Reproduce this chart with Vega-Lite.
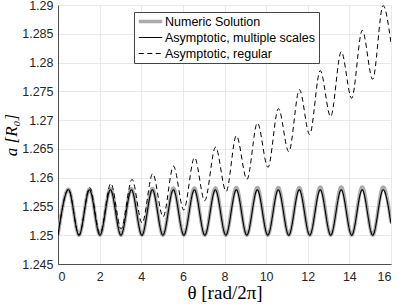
{
  "$schema": "https://vega.github.io/schema/vega-lite/v6.json",
  "width": 333,
  "height": 259,
  "autosize": {"type": "none"},
  "padding": {"left": 58, "top": 5, "right": 8, "bottom": 41},
  "background": "white",
  "config": {
    "view": {"stroke": null},
    "axis": {
      "labelFont": "Liberation Sans",
      "labelFontSize": 12.5,
      "labelColor": "#262626",
      "titleColor": "#000000",
      "gridColor": "#e3e3e3",
      "gridWidth": 0.8,
      "domainColor": "#262626",
      "domainWidth": 0.8,
      "tickSize": 0
    },
    "legend": {
      "labelFont": "Liberation Sans",
      "labelFontSize": 12.5,
      "labelColor": "#000000"
    }
  },
  "data": {
    "values": [
      {"series": "Numeric Solution", "theta": 0, "a": 1.25},
      {"series": "Numeric Solution", "theta": 0.504, "a": 1.258},
      {"series": "Numeric Solution", "theta": 1.008, "a": 1.25},
      {"series": "Numeric Solution", "theta": 1.512, "a": 1.258},
      {"series": "Numeric Solution", "theta": 2.016, "a": 1.25},
      {"series": "Numeric Solution", "theta": 2.52, "a": 1.2581},
      {"series": "Numeric Solution", "theta": 3.024, "a": 1.25},
      {"series": "Numeric Solution", "theta": 3.528, "a": 1.2581},
      {"series": "Numeric Solution", "theta": 4.032, "a": 1.25},
      {"series": "Numeric Solution", "theta": 4.536, "a": 1.2581},
      {"series": "Numeric Solution", "theta": 5.04, "a": 1.25},
      {"series": "Numeric Solution", "theta": 5.544, "a": 1.2582},
      {"series": "Numeric Solution", "theta": 6.048, "a": 1.25},
      {"series": "Numeric Solution", "theta": 6.552, "a": 1.2582},
      {"series": "Numeric Solution", "theta": 7.056, "a": 1.25},
      {"series": "Numeric Solution", "theta": 7.56, "a": 1.2582},
      {"series": "Numeric Solution", "theta": 8.064, "a": 1.25},
      {"series": "Numeric Solution", "theta": 8.568, "a": 1.2583},
      {"series": "Numeric Solution", "theta": 9.072, "a": 1.25},
      {"series": "Numeric Solution", "theta": 9.576, "a": 1.2583},
      {"series": "Numeric Solution", "theta": 10.08, "a": 1.25},
      {"series": "Numeric Solution", "theta": 10.584, "a": 1.2583},
      {"series": "Numeric Solution", "theta": 11.088, "a": 1.25},
      {"series": "Numeric Solution", "theta": 11.592, "a": 1.2583},
      {"series": "Numeric Solution", "theta": 12.096, "a": 1.25},
      {"series": "Numeric Solution", "theta": 12.6, "a": 1.2584},
      {"series": "Numeric Solution", "theta": 13.104, "a": 1.25},
      {"series": "Numeric Solution", "theta": 13.608, "a": 1.2584},
      {"series": "Numeric Solution", "theta": 14.112, "a": 1.25},
      {"series": "Numeric Solution", "theta": 14.616, "a": 1.2584},
      {"series": "Numeric Solution", "theta": 15.12, "a": 1.25},
      {"series": "Numeric Solution", "theta": 15.624, "a": 1.2584},
      {"series": "Numeric Solution", "theta": 16, "a": 1.2522},

      {"series": "Asymptotic, multiple scales", "theta": 0, "a": 1.25},
      {"series": "Asymptotic, multiple scales", "theta": 0.504, "a": 1.2579},
      {"series": "Asymptotic, multiple scales", "theta": 1.008, "a": 1.25},
      {"series": "Asymptotic, multiple scales", "theta": 1.512, "a": 1.2579},
      {"series": "Asymptotic, multiple scales", "theta": 2.016, "a": 1.25},
      {"series": "Asymptotic, multiple scales", "theta": 2.52, "a": 1.2579},
      {"series": "Asymptotic, multiple scales", "theta": 3.024, "a": 1.25},
      {"series": "Asymptotic, multiple scales", "theta": 3.528, "a": 1.2579},
      {"series": "Asymptotic, multiple scales", "theta": 4.032, "a": 1.25},
      {"series": "Asymptotic, multiple scales", "theta": 4.536, "a": 1.2579},
      {"series": "Asymptotic, multiple scales", "theta": 5.04, "a": 1.25},
      {"series": "Asymptotic, multiple scales", "theta": 5.544, "a": 1.2579},
      {"series": "Asymptotic, multiple scales", "theta": 6.048, "a": 1.25},
      {"series": "Asymptotic, multiple scales", "theta": 6.552, "a": 1.2579},
      {"series": "Asymptotic, multiple scales", "theta": 7.056, "a": 1.25},
      {"series": "Asymptotic, multiple scales", "theta": 7.56, "a": 1.2579},
      {"series": "Asymptotic, multiple scales", "theta": 8.064, "a": 1.25},
      {"series": "Asymptotic, multiple scales", "theta": 8.568, "a": 1.2579},
      {"series": "Asymptotic, multiple scales", "theta": 9.072, "a": 1.25},
      {"series": "Asymptotic, multiple scales", "theta": 9.576, "a": 1.2579},
      {"series": "Asymptotic, multiple scales", "theta": 10.08, "a": 1.25},
      {"series": "Asymptotic, multiple scales", "theta": 10.584, "a": 1.2579},
      {"series": "Asymptotic, multiple scales", "theta": 11.088, "a": 1.25},
      {"series": "Asymptotic, multiple scales", "theta": 11.592, "a": 1.2579},
      {"series": "Asymptotic, multiple scales", "theta": 12.096, "a": 1.25},
      {"series": "Asymptotic, multiple scales", "theta": 12.6, "a": 1.2579},
      {"series": "Asymptotic, multiple scales", "theta": 13.104, "a": 1.25},
      {"series": "Asymptotic, multiple scales", "theta": 13.608, "a": 1.2579},
      {"series": "Asymptotic, multiple scales", "theta": 14.112, "a": 1.25},
      {"series": "Asymptotic, multiple scales", "theta": 14.616, "a": 1.2579},
      {"series": "Asymptotic, multiple scales", "theta": 15.12, "a": 1.25},
      {"series": "Asymptotic, multiple scales", "theta": 15.624, "a": 1.2579},
      {"series": "Asymptotic, multiple scales", "theta": 16, "a": 1.252},

      {"series": "Asymptotic, regular", "theta": 0, "a": 1.25},
      {"series": "Asymptotic, regular", "theta": 0.504, "a": 1.258},
      {"series": "Asymptotic, regular", "theta": 1.008, "a": 1.25},
      {"series": "Asymptotic, regular", "theta": 1.52, "a": 1.2583},
      {"series": "Asymptotic, regular", "theta": 2.02, "a": 1.2503},
      {"series": "Asymptotic, regular", "theta": 2.54, "a": 1.259},
      {"series": "Asymptotic, regular", "theta": 3.03, "a": 1.2511},
      {"series": "Asymptotic, regular", "theta": 3.56, "a": 1.2597},
      {"series": "Asymptotic, regular", "theta": 4.04, "a": 1.2521},
      {"series": "Asymptotic, regular", "theta": 4.55, "a": 1.2607},
      {"series": "Asymptotic, regular", "theta": 5.05, "a": 1.2532},
      {"series": "Asymptotic, regular", "theta": 5.55, "a": 1.262},
      {"series": "Asymptotic, regular", "theta": 6.04, "a": 1.2544},
      {"series": "Asymptotic, regular", "theta": 6.56, "a": 1.2635},
      {"series": "Asymptotic, regular", "theta": 7.05, "a": 1.256},
      {"series": "Asymptotic, regular", "theta": 7.57, "a": 1.2653},
      {"series": "Asymptotic, regular", "theta": 8.08, "a": 1.2576},
      {"series": "Asymptotic, regular", "theta": 8.57, "a": 1.2673},
      {"series": "Asymptotic, regular", "theta": 9.08, "a": 1.2597},
      {"series": "Asymptotic, regular", "theta": 9.58, "a": 1.2695},
      {"series": "Asymptotic, regular", "theta": 10.09, "a": 1.2618},
      {"series": "Asymptotic, regular", "theta": 10.59, "a": 1.272},
      {"series": "Asymptotic, regular", "theta": 11.09, "a": 1.2645},
      {"series": "Asymptotic, regular", "theta": 11.6, "a": 1.2753},
      {"series": "Asymptotic, regular", "theta": 12.09, "a": 1.2675},
      {"series": "Asymptotic, regular", "theta": 12.6, "a": 1.2786},
      {"series": "Asymptotic, regular", "theta": 13.1, "a": 1.2706},
      {"series": "Asymptotic, regular", "theta": 13.61, "a": 1.2819},
      {"series": "Asymptotic, regular", "theta": 14.11, "a": 1.2738},
      {"series": "Asymptotic, regular", "theta": 14.62, "a": 1.2856},
      {"series": "Asymptotic, regular", "theta": 15.12, "a": 1.2771},
      {"series": "Asymptotic, regular", "theta": 15.62, "a": 1.2899},
      {"series": "Asymptotic, regular", "theta": 16, "a": 1.2834}
    ]
  },
  "mark": {"type": "line", "interpolate": "monotone", "clip": true},
  "encoding": {
    "x": {
      "field": "theta",
      "type": "quantitative",
      "scale": {"domain": [0, 16], "nice": false, "zero": false},
      "axis": {
        "values": [0, 2, 4, 6, 8, 10, 12, 14, 16],
        "format": "d",
        "labelPadding": 6,
        "title": "θ [rad/2π]",
        "titleFont": "Liberation Serif",
        "titleFontSize": 19,
        "titleFontWeight": "normal",
        "titlePadding": 1
      }
    },
    "y": {
      "field": "a",
      "type": "quantitative",
      "scale": {"domain": [1.245, 1.29], "nice": false, "zero": false},
      "axis": {
        "values": [1.245, 1.25, 1.255, 1.26, 1.265, 1.27, 1.275, 1.28, 1.285, 1.29],
        "format": ".3~f",
        "labelPadding": 5,
        "title": "a [R₀]",
        "titleFont": "Liberation Serif",
        "titleFontStyle": "italic",
        "titleFontSize": 17,
        "titleFontWeight": "normal",
        "titlePadding": 1
      }
    },
    "color": {
      "field": "series",
      "type": "nominal",
      "scale": {
        "domain": ["Numeric Solution", "Asymptotic, multiple scales", "Asymptotic, regular"],
        "range": ["#ababab", "#000000", "#000000"]
      },
      "legend": {
        "title": null,
        "orient": "none",
        "legendX": 76,
        "legendY": 7,
        "fillColor": "white",
        "strokeColor": "#444444",
        "padding": 3,
        "symbolType": "stroke",
        "symbolSize": 550,
        "symbolStrokeWidth": 1,
        "labelOffset": 1,
        "clipHeight": 13,
        "rowPadding": 3
      }
    },
    "strokeWidth": {
      "field": "series",
      "type": "nominal",
      "scale": {
        "type": "ordinal",
        "domain": ["Numeric Solution", "Asymptotic, multiple scales", "Asymptotic, regular"],
        "range": [3.5, 1.1, 1]
      },
      "legend": null
    },
    "strokeDash": {
      "field": "series",
      "type": "nominal",
      "scale": {
        "domain": ["Numeric Solution", "Asymptotic, multiple scales", "Asymptotic, regular"],
        "range": [[1, 0], [1, 0], [5, 3.5]]
      },
      "legend": null
    }
  }
}
